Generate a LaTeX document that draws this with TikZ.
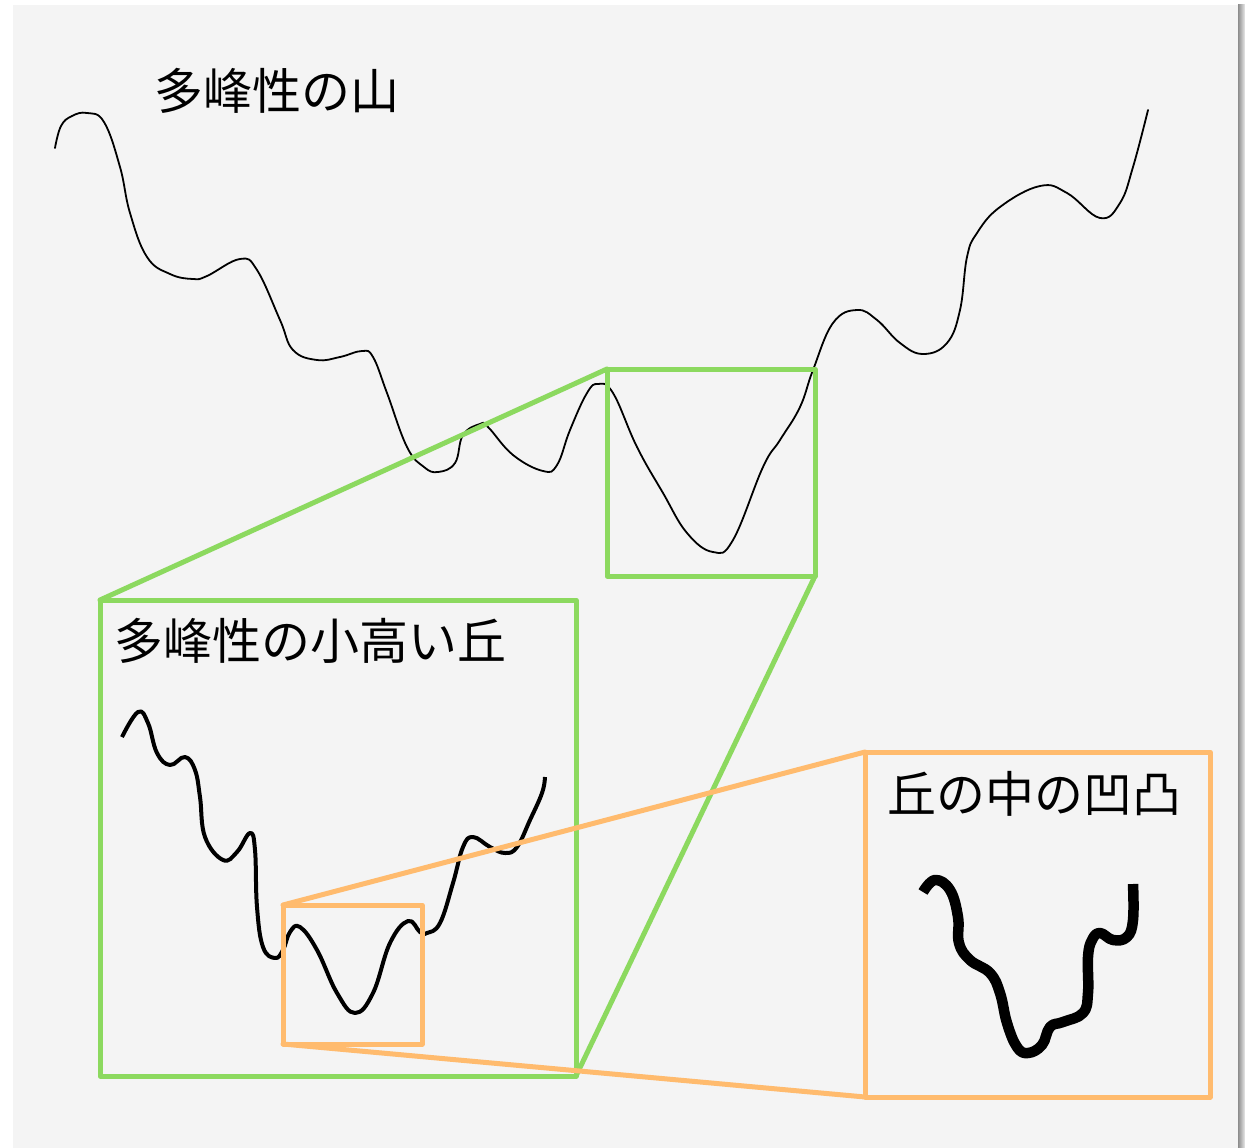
\documentclass[tikz,border=0pt]{standalone}
\usepackage{fontspec}
\newfontfamily\jp{Noto Sans CJK JP}
\definecolor{zgreen}{HTML}{8CD95F}
\definecolor{zorange}{HTML}{FFBB6E}
\definecolor{bgc}{HTML}{F4F4F4}
\begin{document}
\begin{tikzpicture}[x=1pt,y=-1pt,
  curvethin/.style={draw=black,line width=1.8pt,line cap=round,line join=round},
  curvemid/.style={draw=black,line width=4pt,line cap=butt,line join=round},
  curvethick/.style={draw=black,line width=10.5pt,line cap=butt,line join=round},
  gbox/.style={draw=zgreen,line width=5pt,line join=round,rectangle,inner sep=0pt,outer sep=0pt},
  obox/.style={draw=zorange,line width=5pt,line join=round,rectangle,inner sep=0pt,outer sep=0pt},
  glink/.style={draw=zgreen,line width=5pt,line cap=round},
  olink/.style={draw=zorange,line width=5pt,line cap=round},
  lbl/.style={font=\jp\fontsize{49}{58}\selectfont,inner sep=0pt,outer sep=0pt,anchor=base west,text=black}
]
\useasboundingbox (0,0) rectangle (1245,1148);
\fill[white] (0,0) rectangle (1245,1148);
\fill[bgc] (13,5) rectangle (1238,1148);
\shade[left color=black!45,right color=black!8] (1238,5) rectangle (1245,1148);

% main curve
\draw[curvethin] plot[smooth,tension=0.7] coordinates {
 (55,148) (61,126) (72,116) (87,113) (104,122) (120,167) (130,213) (147,257) (170,274) (193,279) (207,276)
 (240,259) (257,270) (280,320) (293,350) (317,360) (340,357) (362,351) (373,357)
 (387,393) (407,447) (424,467) (438,472) (455,463) (463,435) (480,424) (488,427)
 (513,455) (543,471) (557,465) (570,430) (587,393) (598,384) (613,393) (637,447)
 (663,493) (687,533) (713,552) (733,540) (763,467) (780,440) (800,407) (813,370)
 (833,323) (857,310) (877,320) (900,343) (923,354) (947,343) (960,310) (967,257)
 (977,233) (1000,207) (1040,186) (1067,193) (1100,218) (1120,203) (1133,167) (1148,110)};

% middle curve
\draw[curvemid] plot[smooth,tension=0.7] coordinates {
 (122,737) (138,712) (148,723) (157,753) (170,765) (185,757) (195,770) (200,797)
 (205,837) (223,860) (237,852) (250,833) (255,850) (257,907) (263,947) (275,958)
 (283,950) (290,932) (300,927) (317,950) (337,993) (355,1013) (373,993) (390,943)
 (408,921) (420,932) (427,933) (440,923) (453,883) (463,847) (473,837) (490,847)
 (505,853) (517,847) (530,820) (542,793) (545,777)};

% thick curve
\draw[curvethick] plot[smooth,tension=0.7] coordinates {
 (923,892) (935,880) (950,890) (958,917) (959,943) (970,960) (990,973) (1000,993)
 (1007,1023) (1017,1047) (1028,1053) (1042,1045) (1050,1027) (1063,1022) (1083,1013)
 (1088,993) (1088,957) (1092,940) (1100,933) (1113,940) (1127,937) (1133,920) (1133,884)};

% boxes
\node[gbox,minimum width=208pt,minimum height=207pt] (sg) at (711,472.5) {};
\node[gbox,minimum width=476pt,minimum height=476pt] (bg) at (338,838) {};
\node[obox,minimum width=139pt,minimum height=139pt] (so) at (352.5,974.5) {};
\node[obox,minimum width=345pt,minimum height=345pt] (bo) at (1037.5,924.5) {};

% connectors
\draw[glink] (sg.north west) -- (bg.north west);
\draw[glink] (sg.south east) -- (bg.south east);
\draw[olink] (so.north west) -- (bo.north west);
\draw[olink] (so.south west) -- (bo.south west);

% labels
\node[lbl] (t1) at (154,109) {多峰性の山};
\node[lbl] (t2) at (114,659) {多峰性の小高い丘};
\node[lbl] (t3) at (887,812) {丘の中の凹凸};
\end{tikzpicture}
\end{document}
